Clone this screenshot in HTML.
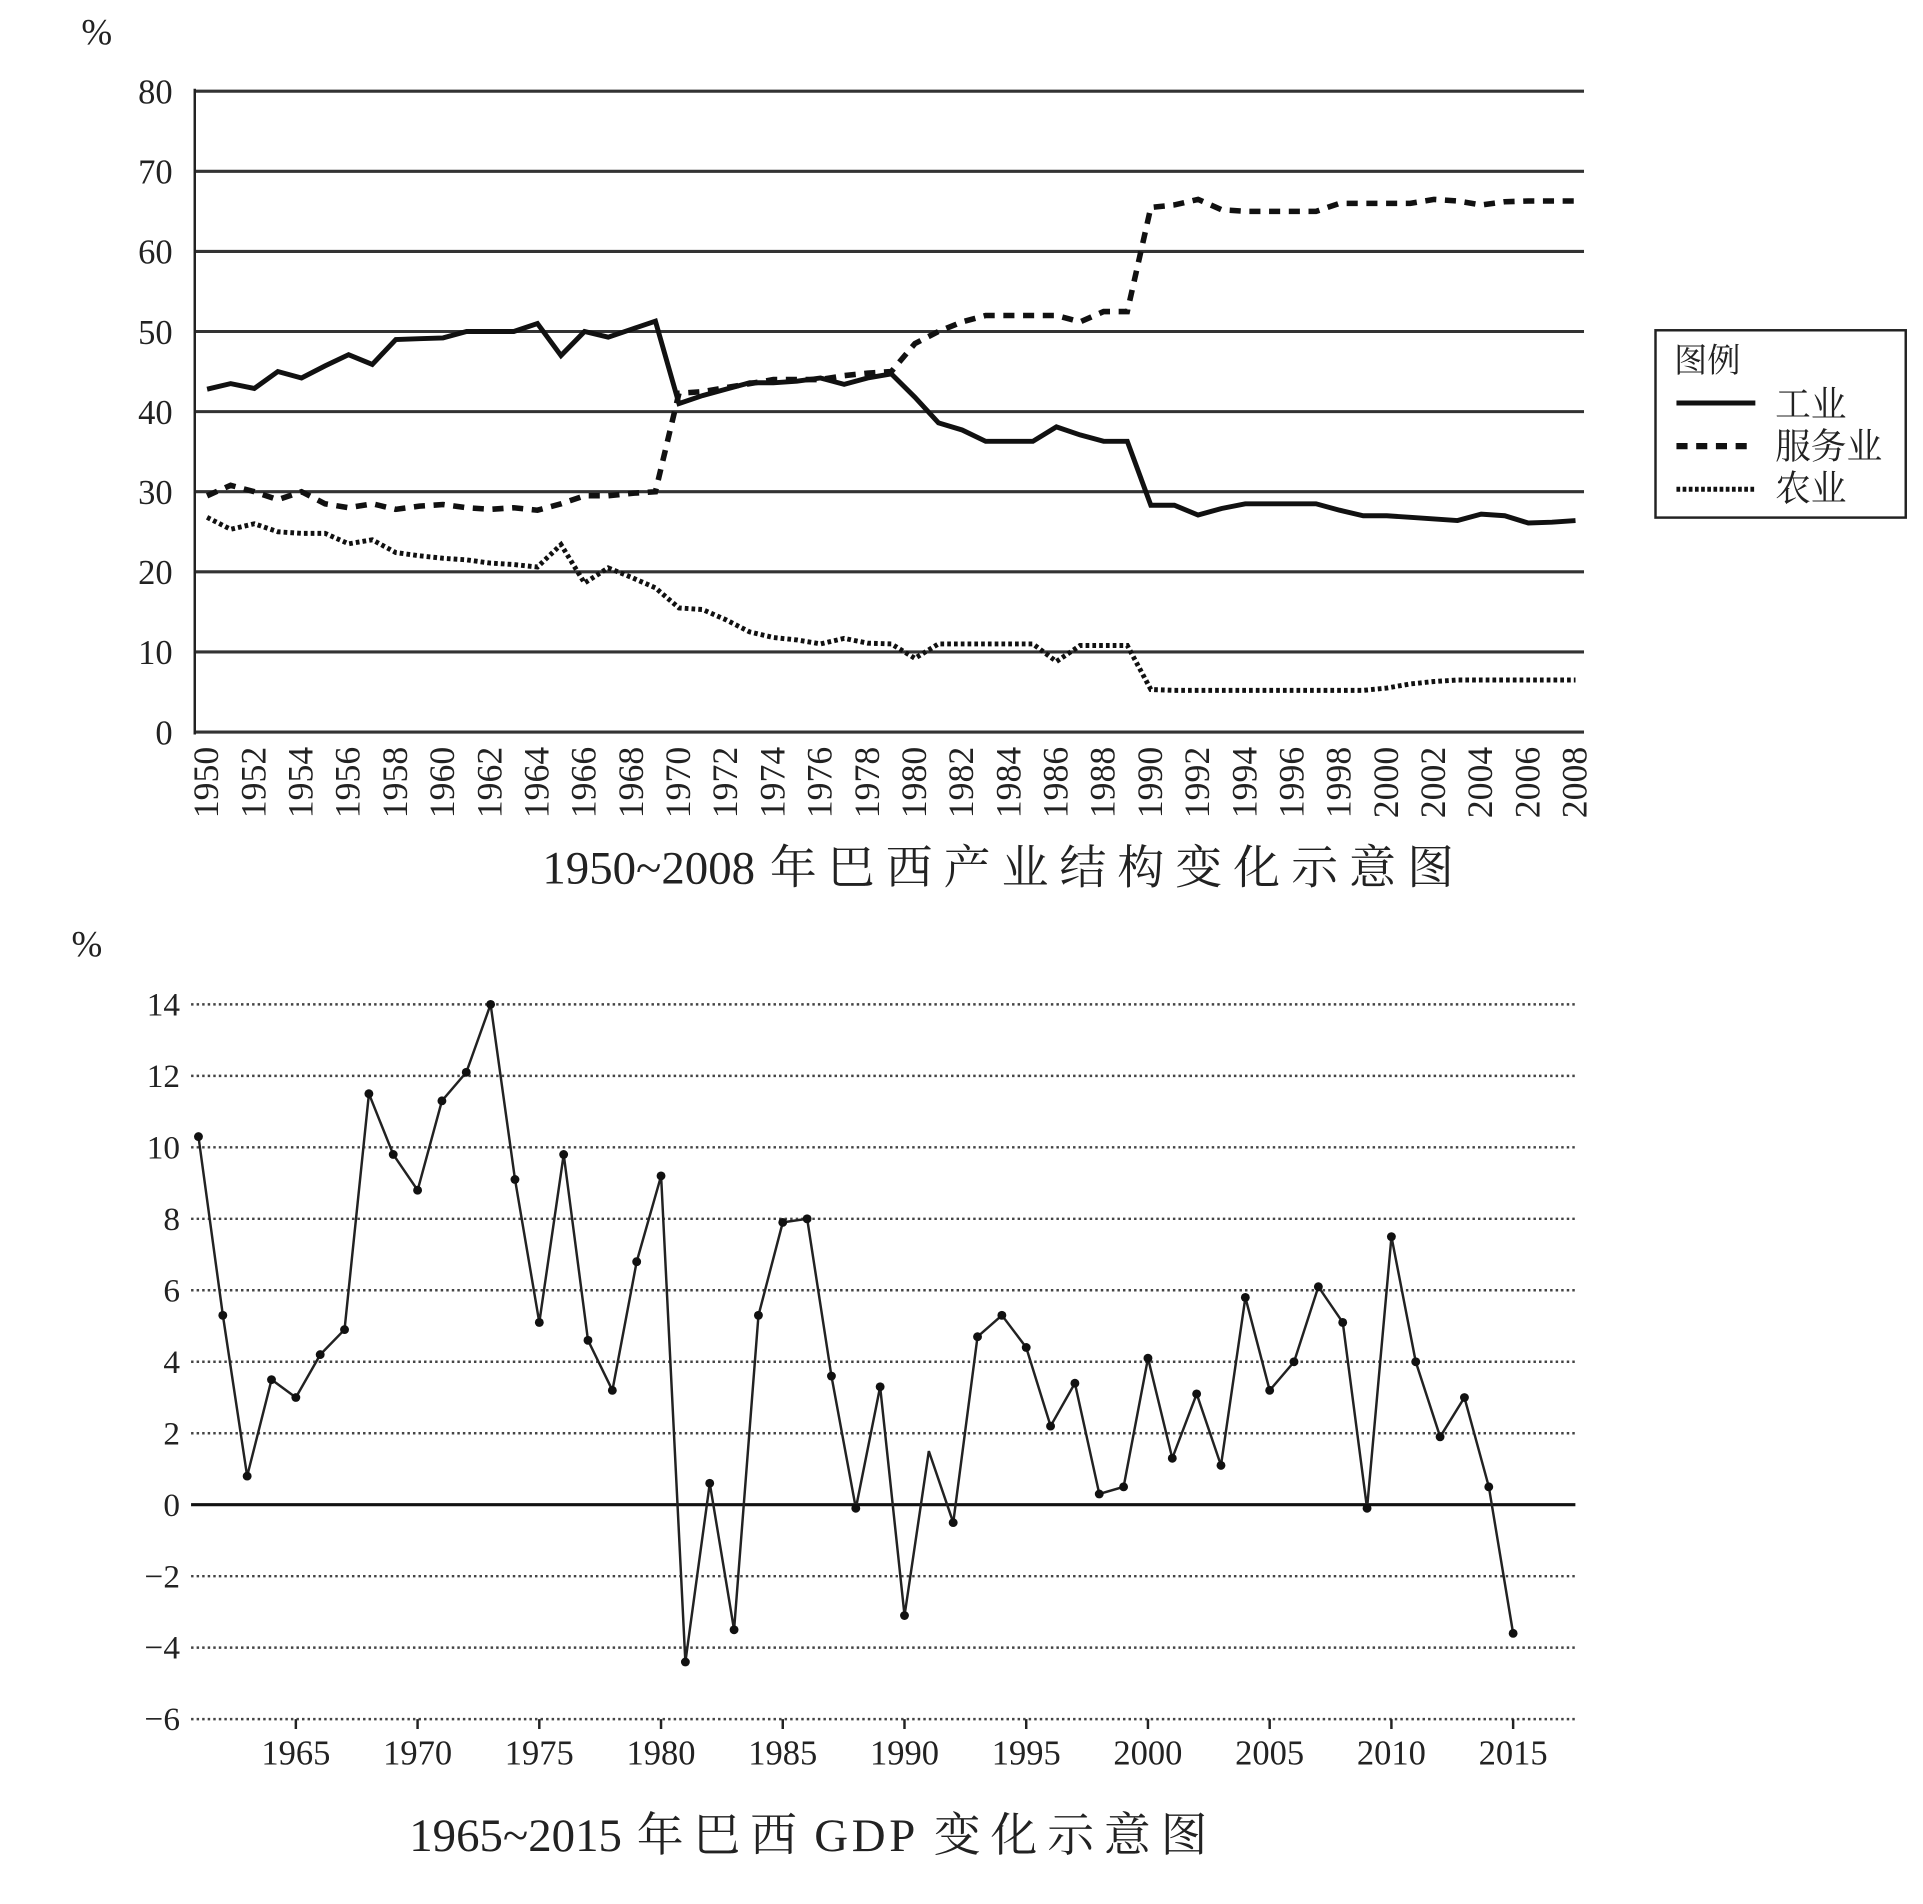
<!DOCTYPE html>
<html><head><meta charset="utf-8"><style>
html,body{margin:0;padding:0;background:#fff;}
svg{display:block;}
text{font-family:"Liberation Serif","Noto Serif CJK SC",serif;fill:#222;}
</style></head><body>
<svg id="s" width="1923" height="1904" viewBox="0 0 1560 1545" preserveAspectRatio="none" xmlns="http://www.w3.org/2000/svg">
<rect width="1560" height="1545" fill="#fff"/>
<g id="g"></g>
<text x="66" y="36" font-size="30">%</text>
<line x1="158" y1="72" x2="158" y2="596" stroke="#222" stroke-width="2"/>
<text x="440" y="717" font-size="38">1950~2008<tspan dx="12" letter-spacing="9">年巴西产业结构变化示意图</tspan></text>
<rect x="1343" y="268" width="203" height="152" fill="#fff" stroke="#222" stroke-width="2"/>
<text x="1358" y="302" font-size="27">图例</text>
<line x1="1360" y1="327" x2="1424" y2="327" stroke="#111" stroke-width="4"/>
<text x="1440" y="338" font-size="29">工业</text>
<line x1="1360" y1="362" x2="1424" y2="362" stroke="#111" stroke-width="5" stroke-dasharray="9,7"/>
<text x="1440" y="372" font-size="29">服务业</text>
<line x1="1360" y1="397" x2="1424" y2="397" stroke="#111" stroke-width="4" stroke-dasharray="3,2"/>
<text x="1440" y="406" font-size="29">农业</text>
<text x="58" y="776" font-size="30">%</text>
<text x="332" y="1502" font-size="38">1965~2015<tspan dx="12" letter-spacing="8">年巴西</tspan><tspan dx="6" letter-spacing="3">GDP</tspan><tspan dx="12" letter-spacing="8">变化示意图</tspan></text>
</svg>
<script>
var g=document.getElementById('g'),NS="http://www.w3.org/2000/svg";
function el(t,a,txt){var e=document.createElementNS(NS,t);for(var k in a)e.setAttribute(k,a[k]);if(txt!=null)e.textContent=txt;g.appendChild(e);return e;}
function ty(v){return 594-v*6.5;}
function tx(y){return 168+(y-1950)*19.14;}
for(var v=0;v<=80;v+=10){el('line',{x1:158,x2:1285,y1:ty(v),y2:ty(v),stroke:'#333','stroke-width':2.5});
el('text',{x:140,y:ty(v)+10,'font-size':28,'text-anchor':'end'},String(v));}
for(var y=1950;y<=2008;y+=2){var x=tx(y)+9;el('text',{x:0,y:0,'font-size':29,'text-anchor':'end',transform:'translate('+x+',606) rotate(-90)'},String(y));}
var ind=[42.8,43.5,42.9,45,44.2,45.7,47.1,45.9,49,49.1,49.2,50,50,50,51,47,50,49.3,50.3,51.3,41,42,42.8,43.6,43.6,43.8,44.2,43.4,44.2,44.7,41.8,38.6,37.7,36.3,36.3,36.3,38.1,37.1,36.3,36.3,28.3,28.3,27.1,27.9,28.5,28.5,28.5,28.5,27.7,27,27,26.8,26.6,26.4,27.2,27,26.1,26.2,26.4];
var ser=[29.5,30.8,30,29,30,28.5,28,28.5,27.8,28.2,28.4,28,27.8,28,27.7,28.5,29.5,29.5,29.8,30,42.3,42.5,43,43.5,44,44,44,44.5,44.8,45,48.5,50,51.2,52,52,52,52,51.2,52.5,52.5,65.5,65.8,66.5,65.2,65,65,65,65,66,66,66,66,66.5,66.3,65.8,66.2,66.3,66.3,66.3];
var agr=[26.8,25.3,26,25,24.8,24.8,23.5,24,22.4,22,21.7,21.5,21.1,20.9,20.6,23.4,18.6,20.5,19.3,18,15.5,15.3,14,12.5,11.8,11.5,11,11.7,11.1,11,9.2,11,11,11,11,11,8.8,10.8,10.8,10.8,5.3,5.2,5.2,5.2,5.2,5.2,5.2,5.2,5.2,5.2,5.5,6,6.3,6.5,6.5,6.5,6.5,6.5,6.5];
function pts(a,fx,fy,y0){return a.map(function(v,i){return fx(y0+i).toFixed(1)+','+fy(v).toFixed(1)}).join(' ');}
el('polyline',{points:pts(agr,tx,ty,1950),fill:'none',stroke:'#111','stroke-width':4,'stroke-dasharray':'3,2.5'});
el('polyline',{points:pts(ser,tx,ty,1950),fill:'none',stroke:'#111','stroke-width':4.5,'stroke-dasharray':'9,7'});
el('polyline',{points:pts(ind,tx,ty,1950),fill:'none',stroke:'#111','stroke-width':4});
function by(v){return 1221-v*29;}
function bx(y){return 240+(y-1965)*19.75;}
for(var v=-6;v<=14;v+=2){
 if(v==0)el('line',{x1:155,x2:1278,y1:by(0),y2:by(0),stroke:'#111','stroke-width':2.5});
 else el('line',{x1:155,x2:1278,y1:by(v),y2:by(v),stroke:'#444','stroke-width':2,'stroke-dasharray':'2,2.5'});
 el('text',{x:146,y:by(v)+9,'font-size':27,'text-anchor':'end'},v<0?'\u2212'+(-v):String(v));}
for(var y=1965;y<=2015;y+=5){el('line',{x1:bx(y),x2:bx(y),y1:by(-6),y2:by(-6)+8,stroke:'#222','stroke-width':2});
el('text',{x:bx(y),y:1432,'font-size':28,'text-anchor':'middle'},String(y));}
var gdp=[10.3,5.3,0.8,3.5,3.0,4.2,4.9,11.5,9.8,8.8,11.3,12.1,14.0,9.1,5.1,9.8,4.6,3.2,6.8,9.2,-4.4,0.6,-3.5,5.3,7.9,8.0,3.6,-0.1,3.3,-3.1,1.5,-0.5,4.7,5.3,4.4,2.2,3.4,0.3,0.5,4.1,1.3,3.1,1.1,5.8,3.2,4.0,6.1,5.1,-0.1,7.5,4.0,1.9,3.0,0.5,-3.6];
el('polyline',{points:pts(gdp,bx,by,1961),fill:'none',stroke:'#222','stroke-width':2});
gdp.forEach(function(v,i){if(i!=30)el('circle',{cx:bx(1961+i),cy:by(v),r:3.6,fill:'#111'});});
</script>
</body></html>
